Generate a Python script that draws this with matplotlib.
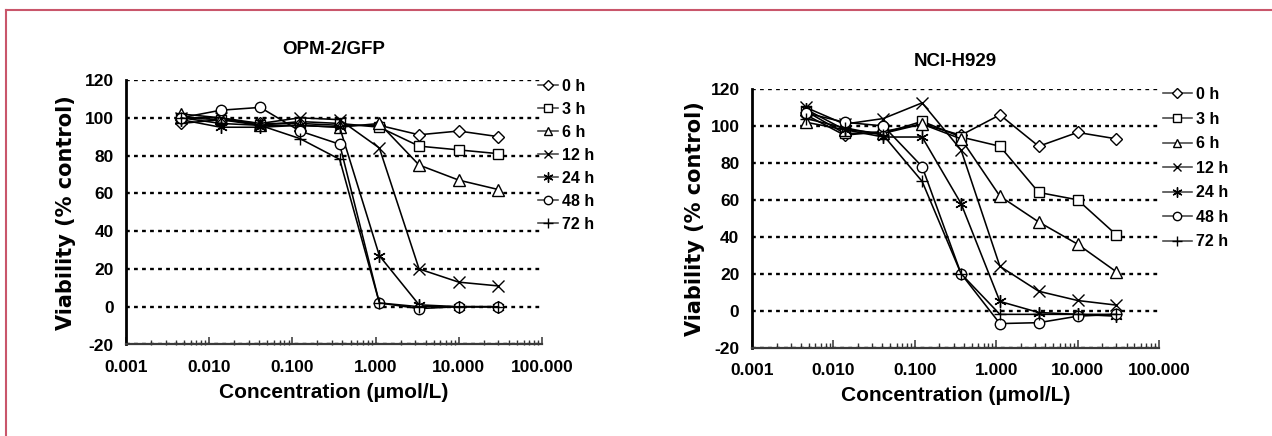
import matplotlib
matplotlib.use("Agg")
import matplotlib.pyplot as plt
from matplotlib.lines import Line2D
import matplotlib.ticker as mticker

# ---------------- data ----------------
conc = [0.0046, 0.0137, 0.041, 0.123, 0.37, 1.11, 3.33, 10, 30]
series_labels = ["0 h", "3 h", "6 h", "12 h", "24 h", "48 h", "72 h"]

opm_0h = [97, 99, 97, 97, 96, 96, 91, 93, 90]
opm_3h = [100, 99, 96, 98, 97, 95, 85, 83, 81]
opm_6h = [102, 100, 96, 96, 95, 97, 75, 67, 62]
opm_12h = [100, 100, 97, 100, 99, 84, 20, 13, 11]
opm_24h = [99, 95, 95, 96, 95, 27, 1, 0, 0]
opm_48h = [100, 104, 105.5, 93, 86, 2, -1, 0, 0]
opm_72h = [100, 97, 96, 89, 78, 2, 0, 0, 0]

nci_0h = [106, 95, 97, 101, 95, 106, 89, 96.5, 93]
nci_3h = [108, 96, 96, 102.5, 94, 89, 64, 60, 41]
nci_6h = [102, 98, 96, 101, 93, 62, 48, 36, 21]
nci_12h = [110, 101, 104, 112.5, 87, 24, 10.5, 5.5, 3]
nci_24h = [109, 98, 94, 94, 58, 5, -1, -2, -3]
nci_48h = [107, 102, 100, 78, 20, -7, -6.5, -3, -2]
nci_72h = [104, 99, 95, 70, 20, -2, -2, -2, -2]

xtick_vals = [0.001, 0.01, 0.1, 1, 10, 100]
xtick_labels = ["0.001", "0.010", "0.100", "1.000", "10.000", "100.000"]
ytick_vals = [-20, 0, 20, 40, 60, 80, 100, 120]

titles = ["OPM-2/GFP", "NCI-H929"]
xlabel = "Concentration (\u00b5mol/L)"
ylabel = "Viability (% control)"

# ---------------- style ----------------
plt.rcParams['font.family'] = ['Liberation Sans', 'DejaVu Sans']
plt.rcParams['font.weight'] = 'bold'

markers = ['D', 's', '^', 'x', (6, 2, 0), 'o', '+']
msizes = [6, 7, 8, 8, 9, 7.5, 9]

W, H = 1272, 436
fig = plt.figure(figsize=(W / 100, H / 100), dpi=100)

# figure border (top and left)
fig.add_artist(Line2D([6 / W, 1], [1 - 10 / H, 1 - 10 / H], color='#c9566b', lw=1.5,
                      transform=fig.transFigure))
fig.add_artist(Line2D([6 / W, 6 / W], [0, 1 - 10 / H], color='#c9566b', lw=1.5,
                      transform=fig.transFigure))


def px_axes(x0, x1, ytop, ybot):
    return fig.add_axes([x0 / W, 1 - ybot / H, (x1 - x0) / W, (ybot - ytop) / H])


panels = [
    dict(box=(126, 542, 80, 344.5), data=[opm_0h, opm_3h, opm_6h, opm_12h, opm_24h, opm_48h, opm_72h],
         title_y=50, ylab_x=66, leg=(538, 79), legsp=0.5, hl=1.25),
    dict(box=(752, 1159, 89, 347.6), data=[nci_0h, nci_3h, nci_6h, nci_12h, nci_24h, nci_48h, nci_72h],
         title_y=62, ylab_x=695, leg=(1163, 87), legsp=0.6, hl=1.8),
]

for p, title in zip(panels, titles):
    x0, x1, yt, yb = p['box']
    ax = px_axes(x0, x1, yt, yb)
    ax.set_xscale('log')
    ax.set_xlim(0.001, 100)
    ax.set_ylim(-20, 120)
    handles = []
    for vals, lab, mk, ms in zip(p['data'], series_labels, markers, msizes):
        h, = ax.plot(conc, vals, color='black', lw=1.15, marker=mk, ms=ms,
                     mfc='white', mec='black', mew=1.0, label=lab, zorder=3)
        handles.append(h)
    for s in ['top', 'right', 'bottom']:
        ax.spines[s].set_visible(False)
    ax.spines['left'].set_linewidth(2.0)
    ax.spines['left'].set_color('black')
    # bottom axis line at the lower y limit
    ax.axhline(ax.get_ylim()[0], color='#3a3a3a', lw=1.6, clip_on=False, zorder=4)
    ax.set_yticks(ytick_vals)
    ax.set_yticklabels([str(v) for v in ytick_vals], fontsize=12.5, fontweight='bold')
    ax.tick_params(axis='y', length=0, pad=9)
    ax.set_xticks(xtick_vals)
    ax.set_xticklabels(xtick_labels, fontsize=12.5, fontweight='bold')
    ax.xaxis.set_minor_locator(mticker.LogLocator(base=10, subs=range(2, 10), numticks=20))
    ax.xaxis.set_minor_formatter(mticker.NullFormatter())
    ax.tick_params(axis='x', which='major', direction='in', length=6, width=1.1, color='#333333', pad=11)
    ax.tick_params(axis='x', which='minor', direction='in', length=3.5, width=1, color='#333333')
    ax.yaxis.grid(True, color='black', linestyle=(0, (1.6, 1.8)), lw=1.7)
    ax.set_axisbelow(True)
    ax.patch.set_alpha(0)

    fig.text((x0 + x1) / 2 / W, 1 - p['title_y'] / H, title, ha='center', va='center',
             fontsize=13.5, fontweight='bold')
    ax.set_xlabel(xlabel, fontsize=15, fontweight='bold', labelpad=6)
    fig.text(p['ylab_x'] / W, 1 - (yt + yb) / 2 / H, ylabel, rotation=90, ha='center', va='center',
             fontsize=15, fontweight='bold', family='DejaVu Sans')

    lx, ly = p['leg']
    leg = ax.legend(handles=handles, loc='upper left', bbox_to_anchor=(lx / W, 1 - ly / H),
                    bbox_transform=fig.transFigure, frameon=False, borderaxespad=0, borderpad=0,
                    handlelength=p['hl'], handletextpad=0.25, labelspacing=p['legsp'],
                    markerscale=0.8, prop={'size': 11.5, 'weight': 'bold'})
    for lh in leg.legend_handles:
        lh.set_color('#444444')
        lh.set_markeredgecolor('black')

fig.savefig('out.png', dpi=100)
